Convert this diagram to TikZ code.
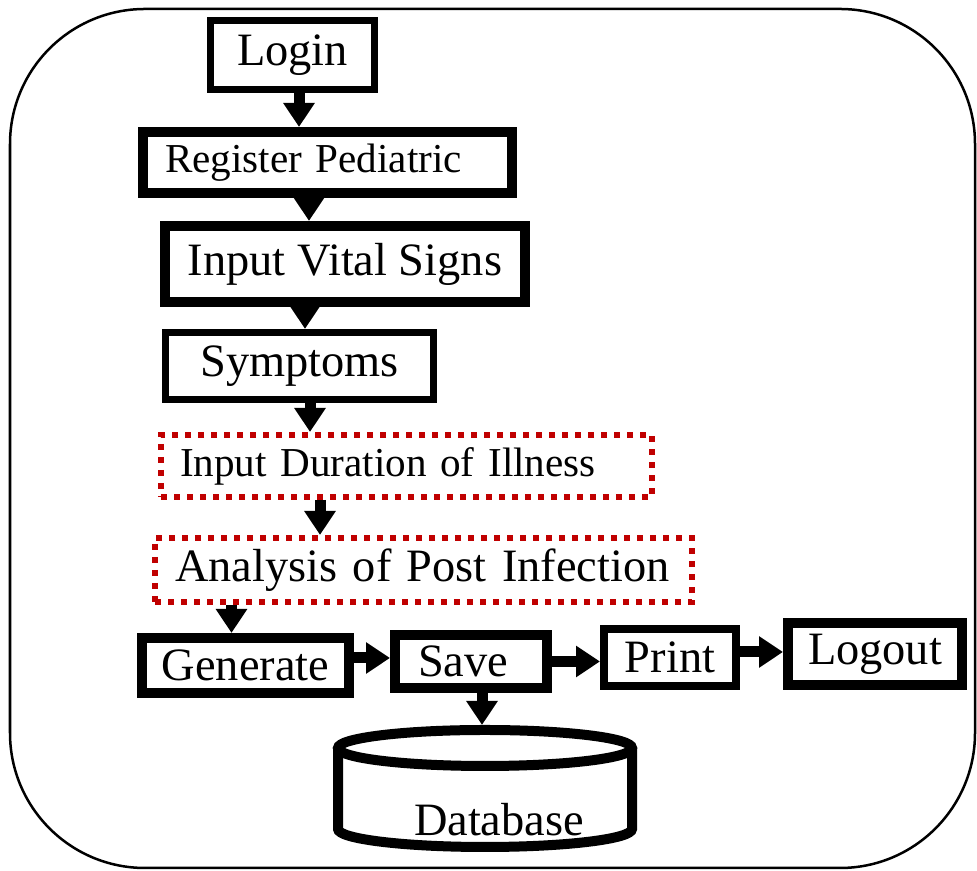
\documentclass[tikz,border=0pt]{standalone}
\usepackage{fontspec}
\setmainfont{Liberation Serif}
\usepackage{tikz}
\usetikzlibrary{arrows.meta}
\definecolor{dkred}{RGB}{192,0,0}
\newcommand{\bigtext}{\fontsize{26.4}{30}\selectfont}
\newcommand{\smalltext}{\fontsize{23.4}{27}\selectfont}

\begin{document}
\begin{tikzpicture}[box/.style={draw, rectangle, line width=0.2cm, inner sep=0pt, font=\bigtext},dotbox/.style={draw=dkred, rectangle, line width=0.12cm, dash pattern=on 0.12cm off 0.14cm, inner ysep=0pt, align=left},flow/.style={-{Triangle[width=0.6cm,length=0.48cm]}, line width=0.22cm}]
  \useasboundingbox (0,0) rectangle (19.54,17.42);
  % outer frame
  \draw[line width=0.05cm, rounded corners=2.7cm] (0.2,0.06) rectangle (19.5,17.24);
  % main column
  \node[box, line width=0.14cm, minimum width=3.28cm, minimum height=1.38cm] (login) at (5.85,16.32) {Login};
  \node[box, font=\smalltext, text width=6.5cm, align=left, inner xsep=0.44cm, minimum height=1.22cm] (reg) at (6.55,14.17) {Register Pediatric};
  \node[box, minimum width=7.2cm, minimum height=1.52cm] (vital) at (6.9,12.14) {Input Vital Signs};
  \node[box, line width=0.14cm, minimum width=5.36cm, minimum height=1.34cm] (sympt) at (5.99,10.1) {Symptoms};
  \node[dotbox, font=\smalltext, text width=9.06cm, inner xsep=0.38cm, minimum height=1.24cm] (dur) at (8.13,8.1) {Input Duration of Illness};
  \node[dotbox, font=\bigtext, text width=9.94cm, inner xsep=0.4cm, minimum height=1.28cm] (post) at (8.47,6.02) {Analysis of Post Infection};
  % bottom row
  \node[box, minimum width=4.14cm, minimum height=1.1cm] (gen) at (4.91,4.11) {Generate};
  \node[box, text width=2.12cm, align=left, inner xsep=0.46cm, minimum height=1.06cm] (save) at (9.42,4.19) {Save};
  \node[box, line width=0.16cm, minimum width=2.64cm, minimum height=1.14cm] (print) at (13.4,4.27) {Print};
  \node[box, minimum width=3.48cm, minimum height=1.24cm] (logout) at (17.5,4.34) {Logout};
  % database drum
  \draw[line width=0.2cm] (9.7,2.46) ellipse [x radius=2.94cm, y radius=0.36cm];
  \draw[line width=0.2cm] (6.76,2.46) -- (6.76,0.84) arc[start angle=180, end angle=360, x radius=2.94cm, y radius=0.36cm] -- (12.64,2.46);
  \coordinate (dbtop) at (9.7,2.92);
  \node[font=\bigtext, anchor=base] (db) at (9.98,0.7) {Database};
  % arrows
  \draw[flow] ([xshift=0.13cm]login.south) -- ([xshift=0.13cm]login.south |- reg.north);
  \draw[flow] ([xshift=-0.37cm]reg.south) -- ([xshift=-0.37cm]reg.south |- vital.north);
  \draw[flow] ([xshift=-0.8cm]vital.south) -- ([xshift=-0.8cm]vital.south |- sympt.north);
  \draw[flow] ([xshift=0.21cm]sympt.south) -- ([xshift=0.21cm]sympt.south |- dur.north);
  \draw[flow] ([xshift=-1.73cm]dur.south) -- ([xshift=-1.73cm]dur.south |- post.north);
  \draw[flow] ([xshift=-0.28cm]gen.north |- post.south) -- ([xshift=-0.28cm]gen.north);
  \draw[flow] ([yshift=0.15cm]gen.east) -- ([yshift=0.15cm]gen.east -| save.west);
  \draw[flow] (save.east) -- (save.east -| print.west);
  \draw[flow] ([yshift=0.11cm]print.east) -- ([yshift=0.11cm]print.east -| logout.west);
  \draw[flow] ([xshift=0.22cm]save.south) -- ([xshift=0.22cm]save.south |- dbtop);
\end{tikzpicture}
\end{document}
